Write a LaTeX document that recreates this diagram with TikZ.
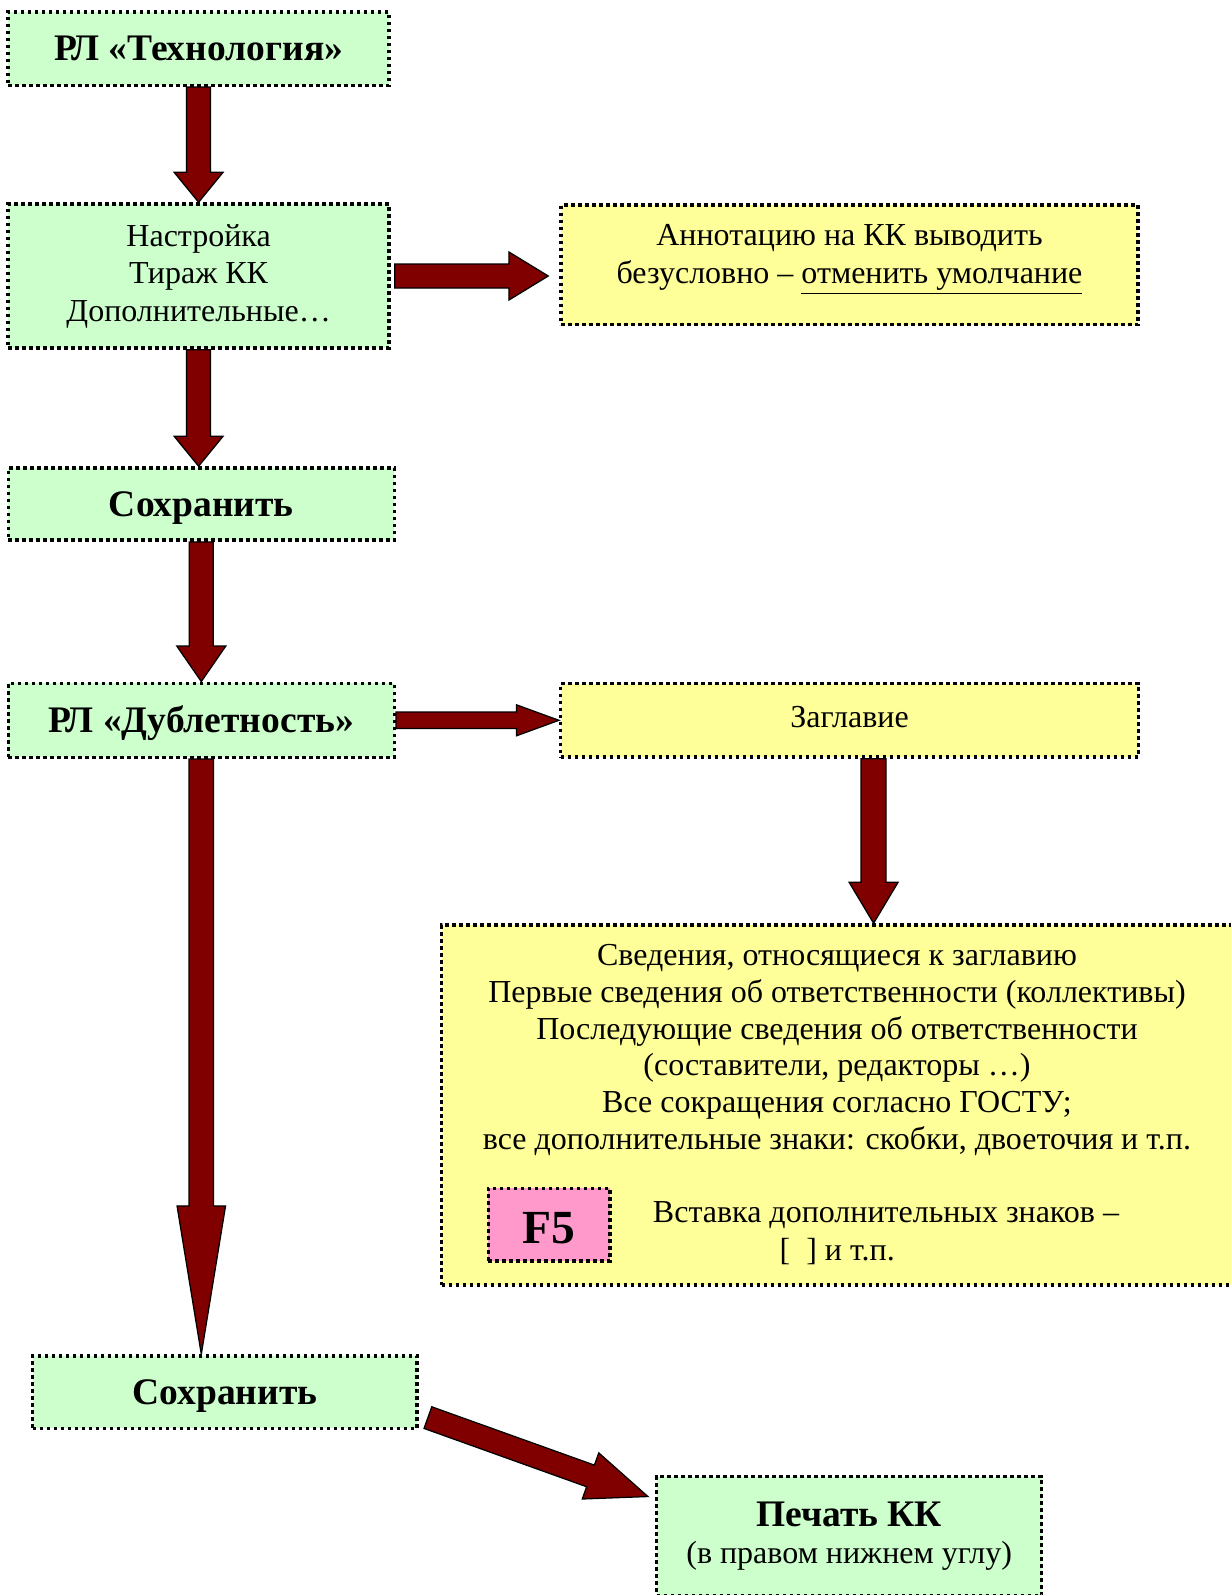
\documentclass[tikz,border=0pt]{standalone}
\usepackage{fontspec}
\setmainfont{Liberation Serif}
\usetikzlibrary{calc}

\definecolor{boxgreen}{HTML}{CCFFCC}
\definecolor{boxyellow}{HTML}{FFFF99}
\definecolor{boxpink}{HTML}{FF99CC}
\definecolor{arrowred}{HTML}{800000}

% fat block arrow: from, to, shaft half width, head half width, head length
\newcommand{\fatarrow}[5]{%
	\coordinate (fa-b) at ($(#2)!#5!(#1)$);
	\filldraw[fat] ($(#1)!#3!90:(#2)$) -- ($(fa-b)!#3!-90:(#1)$) -- ($(fa-b)!#4!-90:(#1)$) -- (#2)
		-- ($(fa-b)!#4!90:(#1)$) -- ($(fa-b)!#3!90:(#1)$) -- ($(#1)!#3!-90:(#2)$) -- cycle;}

\begin{document}
\begin{tikzpicture}[x=0.4pt,y=-0.4pt]
		\tikzstyle{box} = [rectangle,draw=black,line width=1.4pt,dash pattern=on 1.4pt off 1.4pt,inner sep=0pt,align=center,font=\fontsize{12.8}{15}\selectfont]
		\tikzstyle{gbox} = [box,fill=boxgreen]
		\tikzstyle{ybox} = [box,fill=boxyellow]
		\tikzstyle{bold} = [font=\fontsize{15}{18}\selectfont\bfseries]
		\tikzstyle{fat} = [fill=arrowred,draw=black,line width=0.5pt]
		
		\useasboundingbox (0,0) rectangle (1231,1595);
		
		\node[gbox,bold,minimum width=152.3pt,minimum height=29.4pt] (tech) at (198.6,48.5) {РЛ «Технология»};
		\node[gbox,minimum width=152.3pt,minimum height=57.6pt] (setup) at (198.6,276) {Настройка\\ Тираж КК\\ Дополнительные…};
		\node[ybox,minimum width=230.8pt,minimum height=47.8pt] (annot) at (849.5,264.8) {Аннотацию на КК выводить\\ безусловно – \underline{отменить умолчание}\rule[-8.8pt]{0pt}{8.8pt}};
		\node[gbox,bold,minimum width=154.4pt,minimum height=28.9pt] (save1) at (201.3,504.1) {\rule{0pt}{13pt}Сохранить};
		\node[gbox,bold,minimum width=154.4pt,minimum height=29.6pt] (dubl) at (201.3,720.3) {\rule{0pt}{13pt}РЛ «Дублетность»};
		\node[ybox,minimum width=231.1pt,minimum height=29.4pt] (title) at (849.6,720.3) {Заглавие\rule[-3pt]{0pt}{3pt}};
		
		\node[ybox,minimum width=321.4pt,minimum height=144pt] (info) at (843.3,1105) {};
		\node[align=center,font=\fontsize{12.8}{14.7}\selectfont] (infotext) at (837,1050) {Сведения, относящиеся к заглавию\\ Первые сведения об ответственности (коллективы)\\ Последующие сведения об ответственности\\ (составители, редакторы …)\\ Все сокращения согласно ГОСТУ;\\ все дополнительные знаки: скобки, двоеточия и т.п.};
		\node[box,fill=boxpink,font=\fontsize{19}{22}\selectfont\bfseries,minimum width=48.7pt,minimum height=29pt] (f5) at (549.2,1224.5) {\rule{0pt}{15.5pt}F5};
		\node[align=center,font=\fontsize{12.8}{15}\selectfont] (f5text) at (886,1233) {Вставка дополнительных знаков –\\{}[\ \ ] и т.п.\hspace*{39pt}};
		
		\node[gbox,bold,minimum width=153.8pt,minimum height=29pt] (save2) at (224.9,1392.2) {\rule{0pt}{13pt}Сохранить};
		\node[gbox,minimum width=154pt,minimum height=47.7pt] (print) at (849.2,1536.3) {{\fontsize{15}{18}\selectfont\bfseries Печать КК}\\ (в правом нижнем углу)\rule[-2.5pt]{0pt}{2.5pt}};
		
		% free ends of the arrows
		\coordinate (a1) at ($(setup.east)+(4,0)$);
		\coordinate (b1) at ($(a1 -| annot.west)+(-11,0)$);
		\coordinate (a2) at ($(title.south)+(24,0)$);
		\coordinate (a3) at ($(save2.south east)+(9,-12.6)$);
		\coordinate (b3) at ($(print.north west)+(-7,21.6)$);
		
		\fatarrow{tech.south}{setup.north}{4.8pt}{9.8pt}{12pt}
		\fatarrow{setup.south}{setup.south |- save1.north}{4.8pt}{9.8pt}{12pt}
		\fatarrow{save1.south}{dubl.north}{4.8pt}{9.8pt}{14.2pt}
		\fatarrow{a1}{b1}{4.8pt}{9.6pt}{15.7pt}
		\fatarrow{dubl.east}{dubl.east -| title.west}{3.3pt}{6.2pt}{17pt}
		\fatarrow{a2}{a2 |- info.north}{5pt}{9.8pt}{16.4pt}
		\fatarrow{dubl.south}{dubl.south |- save2.north}{4.9pt}{9.7pt}{59.3pt}
		\fatarrow{a3}{b3}{4.6pt}{9.8pt}{24.4pt}
\end{tikzpicture}
\end{document}
